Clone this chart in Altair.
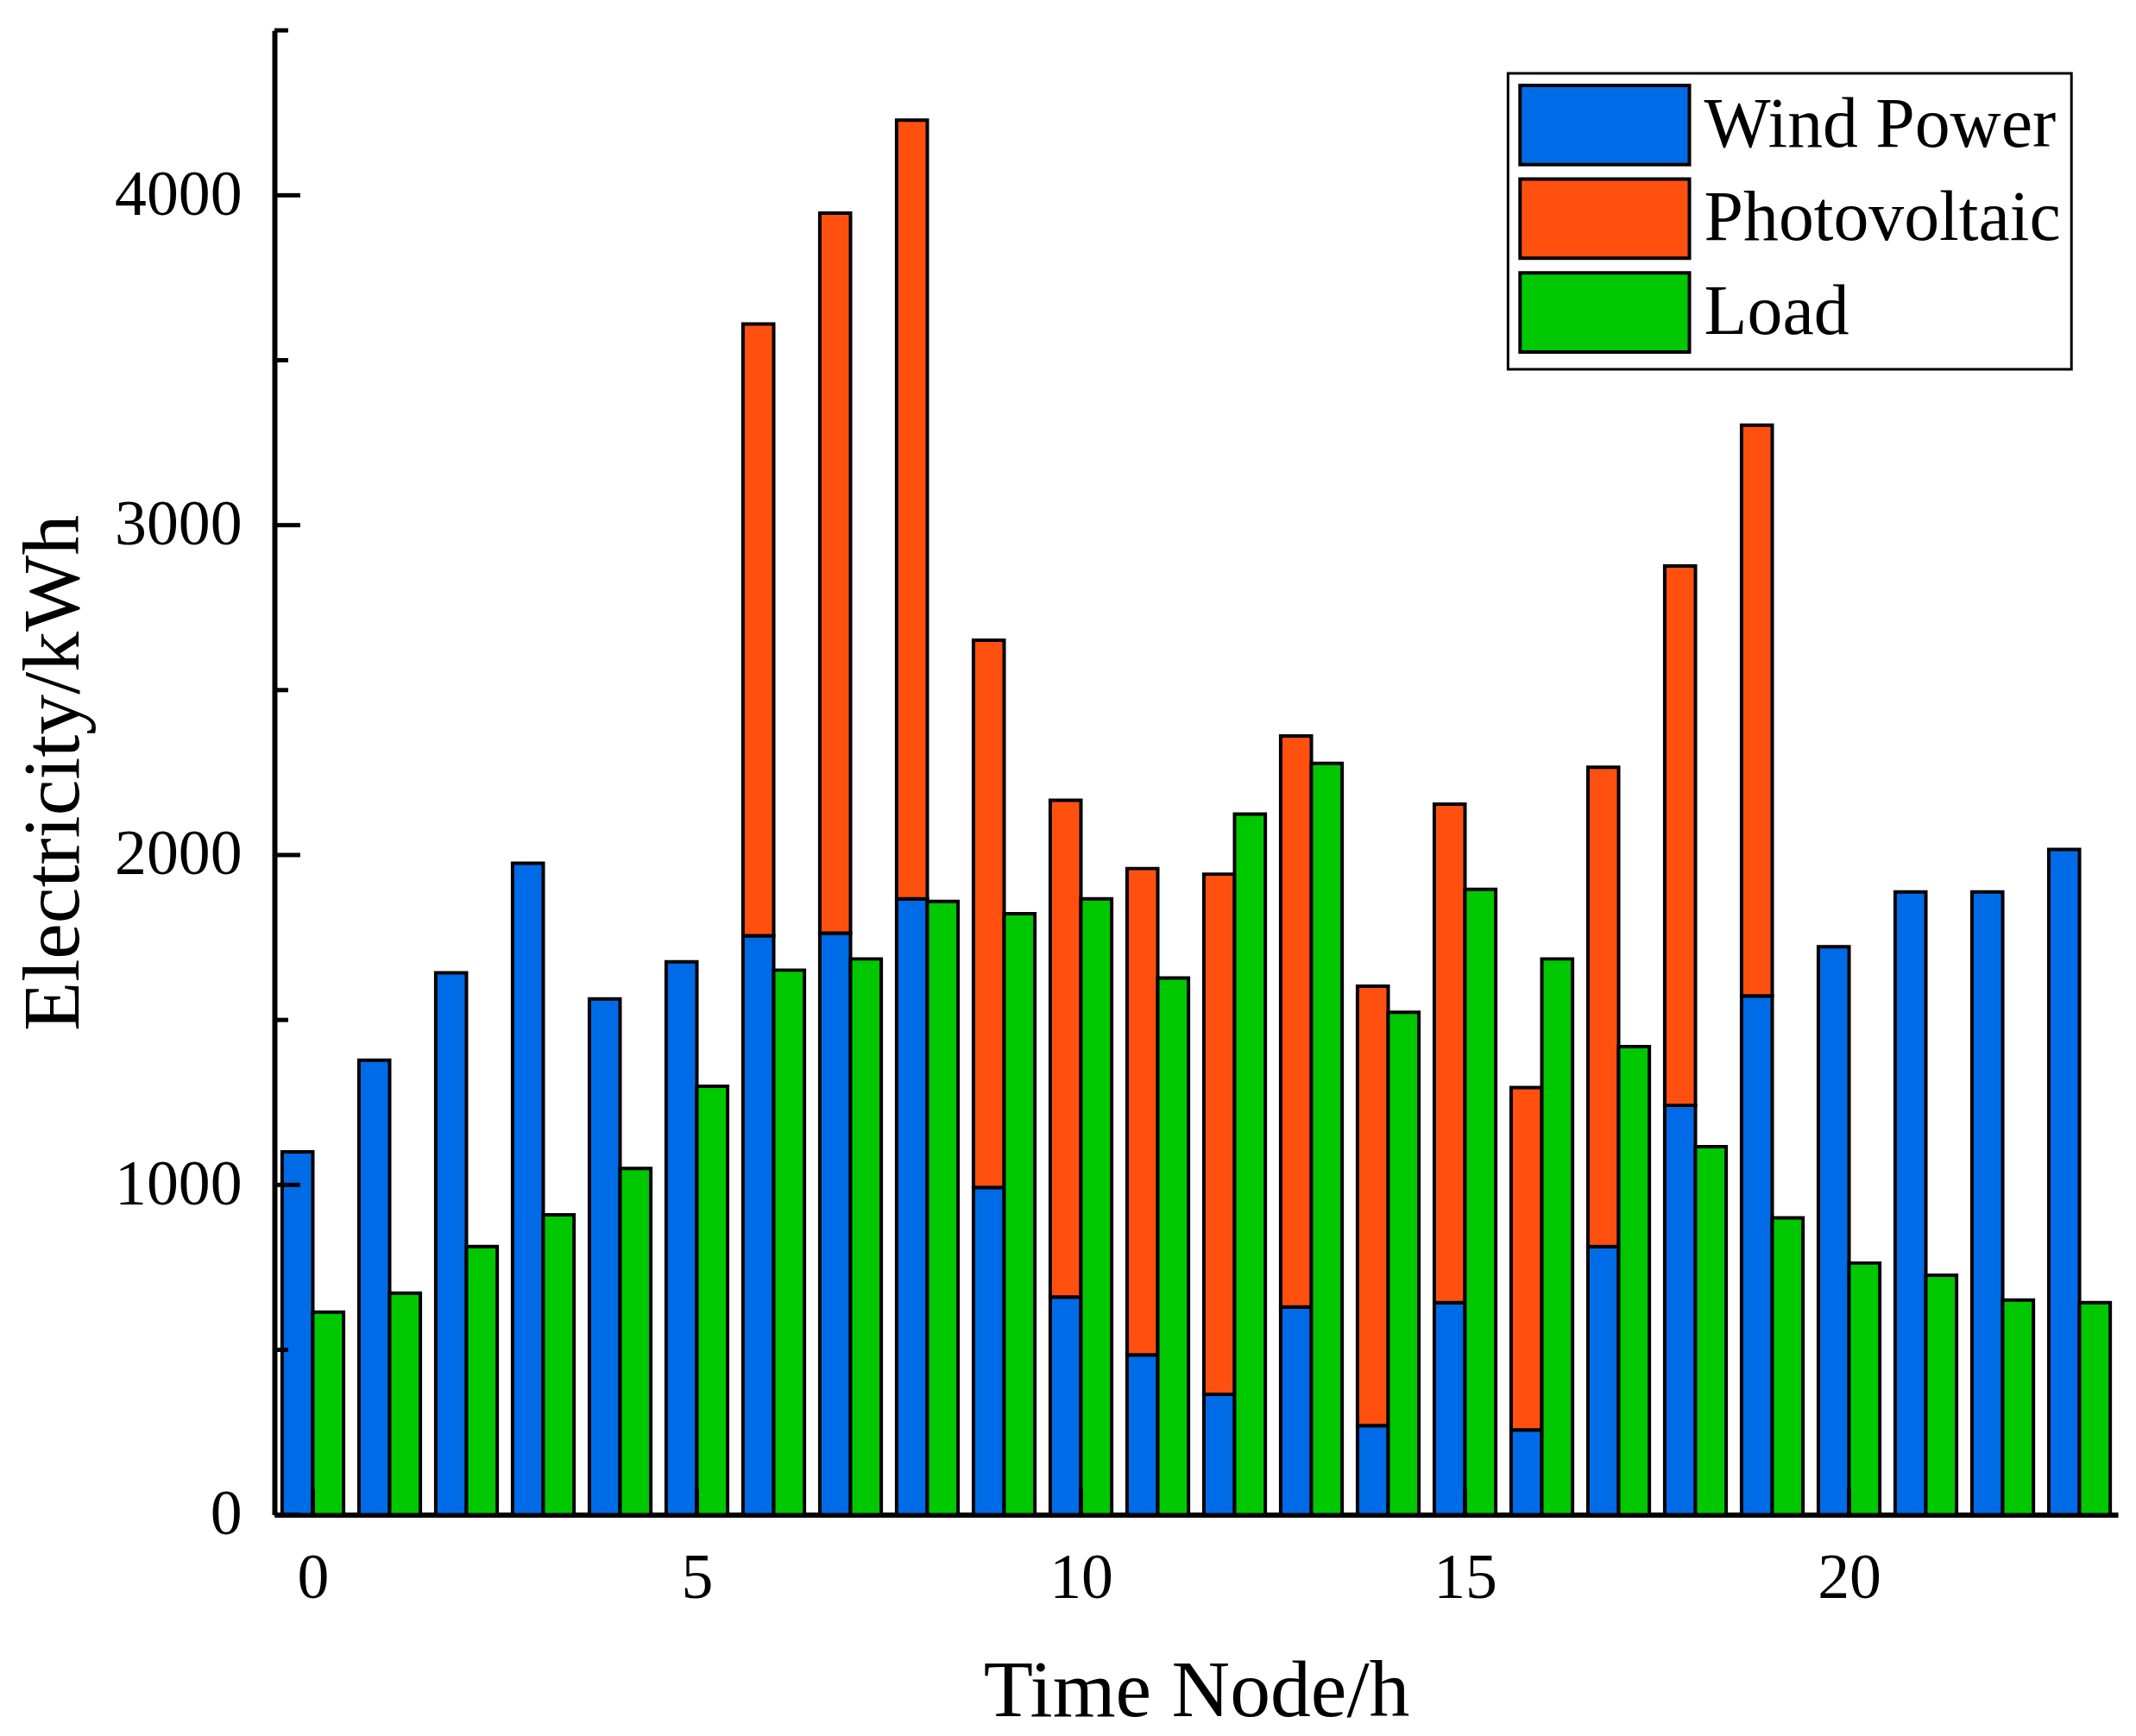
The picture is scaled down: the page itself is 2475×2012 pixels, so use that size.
import altair as alt
import pandas as pd

hours = list(range(24))
wind = [1100, 1378, 1643, 1975, 1564, 1676, 1755, 1763, 1867, 992, 660, 485,
        365, 630, 270, 643, 257, 813, 1241, 1573, 1722, 1888, 1888, 2017]
pv = [0, 0, 0, 0, 0, 0, 1855, 2183, 2361, 1659, 1506, 1474,
      1577, 1731, 1332, 1511, 1038, 1453, 1635, 1730, 0, 0, 0, 0]
load = [614, 672, 813, 909, 1050, 1299, 1651, 1685, 1859, 1822, 1867, 1627,
        2124, 2278, 1523, 1896, 1685, 1419, 1116, 900, 763, 726, 651, 643]
series = ["Wind Power", "Photovoltaic", "Load"]
colors = ["#006BE6", "#FF5010", "#00C800"]
y_major = [0, 1000, 2000, 3000, 4000]
y_minor = [500, 1500, 2500, 3500, 4500]
x_ticks = [0, 5, 10, 15, 20]

W, H = 2143, 1726
BW = 0.4

rows = []
for h, w, p, l in zip(hours, wind, pv, load):
    rows.append({"hour": h, "x0": h - BW, "x1": h, "y0": 0, "y1": w, "series": series[0]})
    if p > 0:
        rows.append({"hour": h, "x0": h - BW, "x1": h, "y0": w, "y1": w + p, "series": series[1]})
    rows.append({"hour": h, "x0": h, "x1": h + BW, "y0": 0, "y1": l, "series": series[2]})
df = pd.DataFrame(rows)

FONT = "Liberation Serif"

xscale = alt.Scale(domain=[-0.5, 23.5], nice=False, zero=False)
yscale = alt.Scale(domain=[0, 4500], nice=False)

bars = alt.Chart(df).mark_rect(stroke="black", strokeWidth=4).encode(
    x=alt.X("x0:Q", scale=xscale,
            axis=alt.Axis(values=x_ticks, format="d", ticks=False, grid=False, domainColor="black",
                          domainWidth=6, labelFont=FONT, labelFontSize=74, labelColor="black",
                          labelPadding=38, title="Time Node/h", titleFont=FONT,
                          titleFontSize=94, titleFontWeight="normal", titleColor="black",
                          titleX=W / 2, titleY=206, titleBaseline="middle")),
    x2="x1:Q",
    y=alt.Y("y0:Q", scale=yscale,
            axis=alt.Axis(values=y_major, format="d", ticks=False, grid=False, domainColor="black",
                          domainWidth=6, labelFont=FONT, labelFontSize=74, labelColor="black",
                          labelPadding=38, title="Electricity/kWh", titleFont=FONT,
                          titleFontSize=94, titleFontWeight="normal", titleColor="black",
                          titleX=-256, titleY=H / 2, titleBaseline="middle", titleAngle=270)),
    y2="y1:Q",
    color=alt.Color("series:N", scale=alt.Scale(domain=series, range=colors),
                    legend=alt.Legend(orient="none", legendX=1434, legendY=50, title=None,
                                      symbolType="M-1,-1H3.28V1H-1Z", symbolSize=8464,
                                      symbolStrokeColor="black", symbolStrokeWidth=4,
                                      symbolOpacity=1, labelFont=FONT, labelFontSize=82,
                                      labelColor="black", labelOffset=120,
                                      padding=12, strokeColor="black",
                                      fillColor="white", labelLimit=1000)),
)

ymaj = alt.Chart(pd.DataFrame({"v": y_major})).mark_rule(color="black", strokeWidth=5).encode(
    y=alt.Y("v:Q", scale=yscale), x=alt.value(0), x2=alt.value(30))
ymin = alt.Chart(pd.DataFrame({"v": y_minor})).mark_rule(color="black", strokeWidth=5).encode(
    y=alt.Y("v:Q", scale=yscale), x=alt.value(0), x2=alt.value(16))
xt = alt.Chart(pd.DataFrame({"v": x_ticks})).mark_rule(color="black", strokeWidth=5).encode(
    x=alt.X("v:Q", scale=xscale), y=alt.value(H), y2=alt.value(H - 30))

chart = alt.layer(bars, ymaj, ymin, xt).properties(
    width=W, height=H,
    padding={"left": 311, "top": 24, "right": 13, "bottom": 254},
    autosize=alt.AutoSizeParams(type="none"),
    background="white",
).configure_view(stroke=None).configure_legend(rowPadding=1, strokeWidth=3)

chart.save("out.html", embed_options={"renderer": "svg", "actions": False})
